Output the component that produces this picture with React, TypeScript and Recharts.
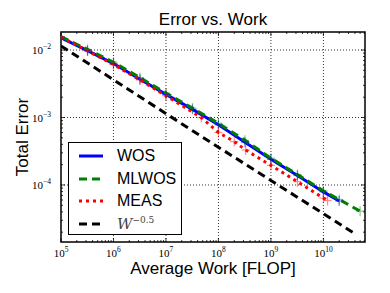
import { LineChart, Line, XAxis, YAxis, ReferenceLine, Legend } from 'recharts'

const wosWork = [1e5, 3.2e5, 1e6, 3.2e6, 1e7, 3.2e7, 1e8, 3.2e8, 1e9, 3.2e9, 1e10, 2e10]
const wosError = [0.0152, 0.0098, 0.0063, 0.0037, 0.0022, 0.00132, 0.00078, 0.00043, 0.00024, 0.000138, 0.000079, 0.000058]

const mlwosWork = [1e5, 3.2e5, 1e6, 3.2e6, 1e7, 3.2e7, 1e8, 3.2e8, 1e9, 3.2e9, 1e10, 2e10, 5e10]
const mlwosError = [0.0158, 0.0102, 0.0066, 0.0039, 0.0023, 0.00138, 0.00082, 0.00046, 0.00025, 0.000143, 0.000082, 0.000061, 0.000041]

const measWork = [1e5, 3.2e5, 1e6, 3.2e6, 1e7, 4.7e7, 1e8, 2e8, 3.3e8, 1e9, 3.2e9, 1e10, 1.2e10]
const measError = [0.0156, 0.0097, 0.0061, 0.0036, 0.0021, 0.001, 0.0006, 0.00044, 0.00033, 0.000195, 0.000112, 0.000064, 0.000059]

const refWork = [1e5, 4.3e7, 4.2e10]
const refError = [0.0115, 0.00055, 0.0000185]

const xMajor = [1e5, 1e6, 1e7, 1e8, 1e9, 1e10]
const yMajor = [1e-4, 1e-3, 1e-2]

const zip = (xs: number[], ys: number[]) => xs.map((w, i) => ({ work: w, error: ys[i] }))

// minor ticks 1..9 per decade, clipped to the domain
const minors = (from: number, to: number, lo: number, hi: number) => {
  const out: number[] = []
  for (let e = from; e <= to; e++) {
    for (let m = 1; m <= 9; m++) {
      const v = m * Math.pow(10, e)
      if (v >= lo && v <= hi) out.push(v)
    }
  }
  return out
}

const X_DOMAIN: [number, number] = [1e5, 6.2e10]
const Y_DOMAIN: [number, number] = [1.43e-5, 0.0185]
const xTicks = minors(5, 10, X_DOMAIN[0], X_DOMAIN[1])
const yTicks = minors(-5, -2, Y_DOMAIN[0], Y_DOMAIN[1])

const W = 390
const H = 293
const X_AXIS_H = 30
const Y_AXIS_W = 50
const margin = { top: 32, right: 25, bottom: 51 - X_AXIS_H, left: 61 - Y_AXIS_W }
const plotW = W - 61 - 25
const plotH = H - 32 - 51

const isMajor = (v: number) => Math.abs(Math.log10(v) - Math.round(Math.log10(v))) < 1e-6
const exponent = (v: number) => {
  const e = Math.round(Math.log10(v))
  return e < 0 ? '\u2212' + Math.abs(e) : String(e)
}

const tickFont = 'Liberation Serif'

const XTick = (props: any) => {
  const { x, y, payload } = props
  const major = isMajor(payload.value)
  const len = major ? 4 : 2
  return (
    <g>
      <line x1={x} y1={y} x2={x} y2={y - len} stroke="#000" strokeWidth={0.8} />
      <line x1={x} y1={y - plotH} x2={x} y2={y - plotH + len} stroke="#000" strokeWidth={0.8} />
      {major && (
        <text x={x} y={y + 15} textAnchor="middle" fontFamily={tickFont} fontSize={11} fill="#000">
          10<tspan dy={-5} fontSize={7.5}>{exponent(payload.value)}</tspan>
        </text>
      )}
    </g>
  )
}

const YTick = (props: any) => {
  const { x, y, payload } = props
  const major = isMajor(payload.value)
  const len = major ? 4 : 2
  return (
    <g>
      <line x1={x} y1={y} x2={x + len} y2={y} stroke="#000" strokeWidth={0.8} />
      <line x1={x + plotW} y1={y} x2={x + plotW - len} y2={y} stroke="#000" strokeWidth={0.8} />
      {major && (
        <text x={x - 10} y={y + 4} textAnchor="end" fontFamily={tickFont} fontSize={11} fill="#000">
          10<tspan dy={-5} fontSize={7.5}>{exponent(payload.value)}</tspan>
        </text>
      )}
    </g>
  )
}

const plusDot = (color: string) => (props: any) => {
  const { cx, cy, index } = props
  if (cx == null || cy == null) return <g key={index} />
  return (
    <g key={index} stroke={color} strokeWidth={1.2} opacity={0.45}>
      <line x1={cx - 4} y1={cy} x2={cx + 4} y2={cy} />
      <line x1={cx} y1={cy - 5} x2={cx} y2={cy + 5} />
    </g>
  )
}

const series = [
  { name: 'WOS', data: zip(wosWork, wosError), color: '#0000ff', dash: undefined },
  { name: 'MLWOS', data: zip(mlwosWork, mlwosError), color: '#008000', dash: '8 5' },
  { name: 'MEAS', data: zip(measWork, measError), color: '#ff0000', dash: '3 4' },
]

const LegendBox = () => (
  <div
    style={{
      width: 114,
      height: 93,
      border: '1.5px solid #000',
      background: '#fff',
      boxSizing: 'border-box',
      paddingTop: 2,
    }}
  >
    {[...series, { name: 'ref', color: '#000', dash: '8 5' }].map((s) => (
      <div key={s.name} style={{ display: 'flex', alignItems: 'center', height: 22.5 }}>
        <svg width={40} height={10} style={{ marginLeft: 8 }}>
          <line x1={2} y1={5} x2={26} y2={5} stroke={s.color} strokeWidth={3} strokeDasharray={s.dash} />
        </svg>
        {s.name === 'ref' ? (
          <span style={{ fontFamily: 'DejaVu Serif', fontSize: 15, fontStyle: 'italic', color: '#444' }}>
            W<sup style={{ fontSize: 9, fontStyle: 'normal' }}>{'\u22120.5'}</sup>
          </span>
        ) : (
          <span style={{ fontFamily: 'Liberation Sans', fontSize: 16, color: '#000' }}>{s.name}</span>
        )}
      </div>
    ))}
  </div>
)

export default function App() {
  return (
    <div style={{ position: 'absolute', left: 0, top: 0, width: W, height: H, background: '#fff' }}>
      <LineChart width={W} height={H} margin={margin}>
        <XAxis
          dataKey="work"
          type="number"
          scale="log"
          domain={X_DOMAIN}
          allowDataOverflow
          ticks={xTicks}
          interval={0}
          height={X_AXIS_H}
          tickSize={0}
          tickMargin={0}
          axisLine={false}
          tickLine={false}
          tick={<XTick />}
        />
        <YAxis
          dataKey="error"
          type="number"
          scale="log"
          domain={Y_DOMAIN}
          allowDataOverflow
          ticks={yTicks}
          interval={0}
          width={Y_AXIS_W}
          tickSize={0}
          tickMargin={0}
          axisLine={false}
          tickLine={false}
          tick={<YTick />}
        />
        {xMajor.slice(1).map((v) => (
          <ReferenceLine key={'x' + v} x={v} stroke="#000" strokeWidth={0.8} strokeDasharray="1 2" />
        ))}
        {yMajor.map((v) => (
          <ReferenceLine key={'y' + v} y={v} stroke="#000" strokeWidth={0.8} strokeDasharray="1 2" />
        ))}
        {series.map((s) => (
          <Line
            key={s.name}
            data={s.data}
            dataKey="error"
            name={s.name}
            stroke={s.color}
            strokeWidth={3}
            strokeDasharray={s.dash}
            dot={plusDot(s.color)}
            activeDot={false}
            isAnimationActive={false}
          />
        ))}
        <Line
          data={zip(refWork, refError)}
          dataKey="error"
          name="W^-0.5"
          stroke="#000"
          strokeWidth={3}
          strokeDasharray="8 5"
          dot={false}
          activeDot={false}
          isAnimationActive={false}
        />
        <rect x={61} y={32} width={plotW} height={plotH} fill="none" stroke="#000" strokeWidth={1.5} />
        <text x={213} y={25} textAnchor="middle" fontFamily="Liberation Sans" fontSize={17} fill="#000">
          Error vs. Work
        </text>
        <text x={213} y={274} textAnchor="middle" fontFamily="Liberation Sans" fontSize={17} fill="#000">
          Average Work [FLOP]
        </text>
        <text
          x={28}
          y={137}
          transform="rotate(-90 28 137)"
          textAnchor="middle"
          fontFamily="Liberation Sans"
          fontSize={17}
          fill="#000"
        >
          Total Error
        </text>
        <Legend
          layout="horizontal"
          verticalAlign="middle"
          align="center"
          content={<LegendBox />}
          wrapperStyle={{ left: 68, top: 142, width: 114, height: 93 }}
        />
      </LineChart>
    </div>
  )
}
